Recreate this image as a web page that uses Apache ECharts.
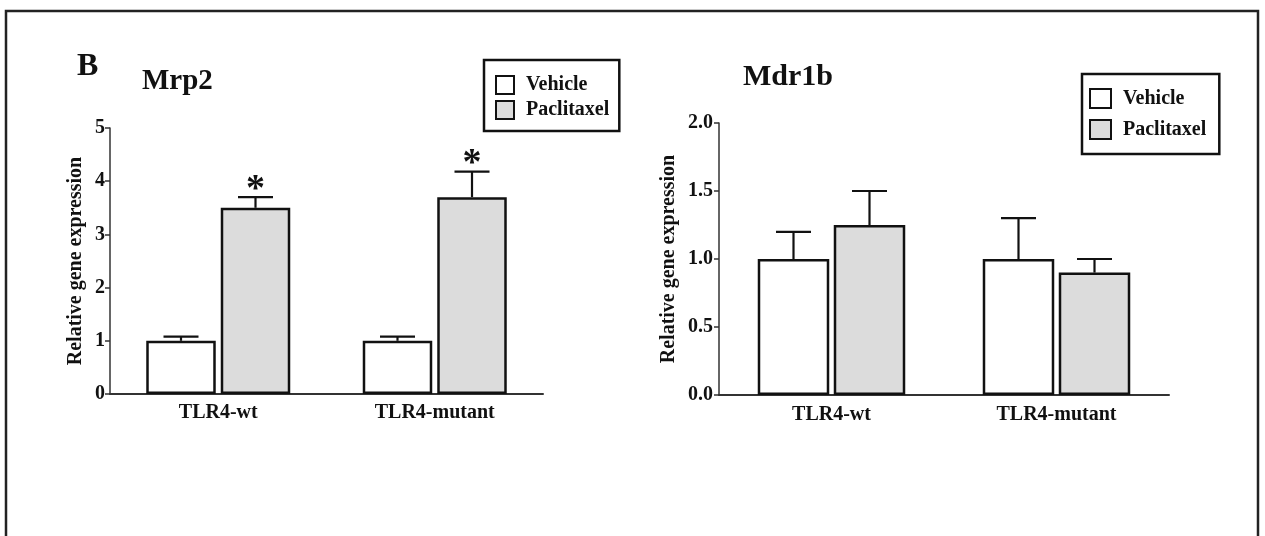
<!DOCTYPE html>
<html>
<head>
<meta charset="utf-8">
<script src="https://cdn.jsdelivr.net/npm/echarts@6/dist/echarts.min.js"></script>
<style>
  html, body { margin: 0; padding: 0; background: #fff; }
  #chart { width: 1265px; height: 536px; }
</style>
</head>
<body>
<div id="chart"></div>
<script>
// ---- data ----
const categories = ['TLR4-wt', 'TLR4-mutant'];
const seriesNames = ['Vehicle', 'Paclitaxel'];

const mrp2Vehicle = [1.0, 1.0];
const mrp2VehicleErr = [0.08, 0.08];
const mrp2Paclitaxel = [3.5, 3.7];
const mrp2PaclitaxelErr = [0.2, 0.48];
const mrp2PaclitaxelSig = [1, 1];
const mrp2Ticks = ['0', '1', '2', '3', '4', '5'];

const mdr1bVehicle = [1.0, 1.0];
const mdr1bVehicleErr = [0.2, 0.3];
const mdr1bPaclitaxel = [1.25, 0.9];
const mdr1bPaclitaxelErr = [0.25, 0.1];
const mdr1bPaclitaxelSig = [0, 0];
const mdr1bTicks = ['0.0', '0.5', '1.0', '1.5', '2.0'];

// ---- styling ----
const FONT = '"Liberation Serif", "Times New Roman", serif';
const INK = '#111';
const GRAY = '#dcdcdc';
const CAP = 35;

const chart = echarts.init(document.getElementById('chart'));

const bw = [69.5, 71.5];
const bg = [0.072, 0.063];

function errData(means, errs, sig) {
  return means.map((m, i) => [i, m, m + errs[i], sig ? sig[i] : 0]);
}

function errSeries(gi, sign, means, errs, sig) {
  const off = sign * (bw[gi] + bw[gi] * bg[gi]) / 2;
  return {
    type: 'custom',
    xAxisIndex: gi, yAxisIndex: gi,
    encode: { x: 0, y: [1, 2] },
    z: 5,
    silent: true,
    data: errData(means, errs, sig),
    renderItem: function (params, api) {
      const top = api.coord([api.value(0), api.value(2)]);
      const base = api.coord([api.value(0), api.value(1)]);
      const x = top[0] + off;
      const st = { stroke: INK, lineWidth: 2.2 };
      const children = [
        { type: 'line', shape: { x1: x, y1: base[1], x2: x, y2: top[1] }, style: st },
        { type: 'line', shape: { x1: x - CAP / 2, y1: top[1], x2: x + CAP / 2, y2: top[1] }, style: st }
      ];
      if (api.value(3)) {
        children.push({
          type: 'text',
          style: {
            text: '*', x: x, y: top[1] - 7,
            align: 'center', verticalAlign: 'middle',
            font: 'bold 38px ' + FONT, fill: INK
          }
        });
      }
      return { type: 'group', children: children };
    }
  };
}

function barSeries(gi, name, values, color) {
  return {
    type: 'bar', name: name,
    xAxisIndex: gi, yAxisIndex: gi,
    data: values,
    barWidth: bw[gi],
    barGap: (bg[gi] * 100) + '%',
    itemStyle: { color: color, borderColor: INK, borderWidth: 2.5 },
    emphasis: { disabled: true }
  };
}

const axisLabelStyle = { fontFamily: FONT, fontWeight: 'bold', fontSize: 20, color: INK };

function yAxis(gi, max, interval, ticks, nameGap, margin) {
  return {
    type: 'value', gridIndex: gi, min: 0, max: max, interval: interval,
    name: 'Relative gene expression', nameLocation: 'middle', nameGap: nameGap,
    nameTextStyle: { fontFamily: FONT, fontWeight: 'bold', fontSize: 20, color: INK },
    axisLine: { show: true, lineStyle: { color: '#333', width: 1.5 } },
    axisTick: { show: true, length: 5, lineStyle: { color: '#333', width: 1.5 } },
    splitLine: { show: false },
    axisLabel: Object.assign({ margin: margin, formatter: function (v) {
      const i = Math.round(v / interval); return ticks[i] !== undefined ? ticks[i] : '';
    } }, axisLabelStyle)
  };
}

function xAxis(gi, margin) {
  return {
    type: 'category', gridIndex: gi, data: categories,
    axisLine: { lineStyle: { color: '#333', width: 2 } },
    axisTick: { alignWithLabel: true, length: 6, lineStyle: { color: '#333', width: 1.5 } },
    axisLabel: Object.assign({ margin: margin }, axisLabelStyle)
  };
}

function legend(left, top, padding, iw, ih, gap, lh) {
  return {
    data: seriesNames, orient: 'vertical', left: left, top: top,
    padding: padding, itemWidth: iw, itemHeight: ih, itemGap: gap,
    borderColor: INK, borderWidth: 2.5, backgroundColor: '#fff',
    icon: 'rect', selectedMode: false,
    itemStyle: { borderColor: INK, borderWidth: 2 },
    textStyle: { fontFamily: FONT, fontWeight: 'bold', fontSize: 20, lineHeight: lh, color: INK, padding: [0, 0, 0, 7] }
  };
}

const option = {
  animation: false,
  backgroundColor: '#fff',
  grid: [
    { left: 110, top: 128, width: 433, height: 266 },
    { left: 719, top: 123, width: 450, height: 272 }
  ],
  xAxis: [xAxis(0, 9), xAxis(1, 10)],
  yAxis: [yAxis(0, 5, 1, mrp2Ticks, 24, 5), yAxis(1, 2, 0.5, mdr1bTicks, 40, 6)],
  legend: [
    legend(484, 60, [15, 10, 11, 11], 18, 18, 5, 18),
    legend(1082, 74, [14, 13, 14, 7], 21, 19, 10, 19)
  ],
  graphic: [
    { type: 'rect', shape: { x: 6, y: 11, width: 1252, height: 600 },
      style: { fill: 'none', stroke: '#222', lineWidth: 2.5 }, silent: true },
    { type: 'text', style: { text: 'B', x: 77, y: 67, verticalAlign: 'middle',
      font: 'bold 32px ' + FONT, fill: INK } },
    { type: 'text', style: { text: 'Mrp2', x: 142, y: 82, verticalAlign: 'middle',
      font: 'bold 29px ' + FONT, fill: INK } },
    { type: 'text', style: { text: 'Mdr1b', x: 743, y: 77, verticalAlign: 'middle',
      font: 'bold 30px ' + FONT, fill: INK } }
  ],
  series: [
    barSeries(0, 'Vehicle', mrp2Vehicle, '#ffffff'),
    barSeries(0, 'Paclitaxel', mrp2Paclitaxel, GRAY),
    errSeries(0, -1, mrp2Vehicle, mrp2VehicleErr, null),
    errSeries(0, 1, mrp2Paclitaxel, mrp2PaclitaxelErr, mrp2PaclitaxelSig),
    barSeries(1, 'Vehicle', mdr1bVehicle, '#ffffff'),
    barSeries(1, 'Paclitaxel', mdr1bPaclitaxel, GRAY),
    errSeries(1, -1, mdr1bVehicle, mdr1bVehicleErr, null),
    errSeries(1, 1, mdr1bPaclitaxel, mdr1bPaclitaxelErr, mdr1bPaclitaxelSig)
  ]
};
chart.setOption(option);
</script>
</body>
</html>
